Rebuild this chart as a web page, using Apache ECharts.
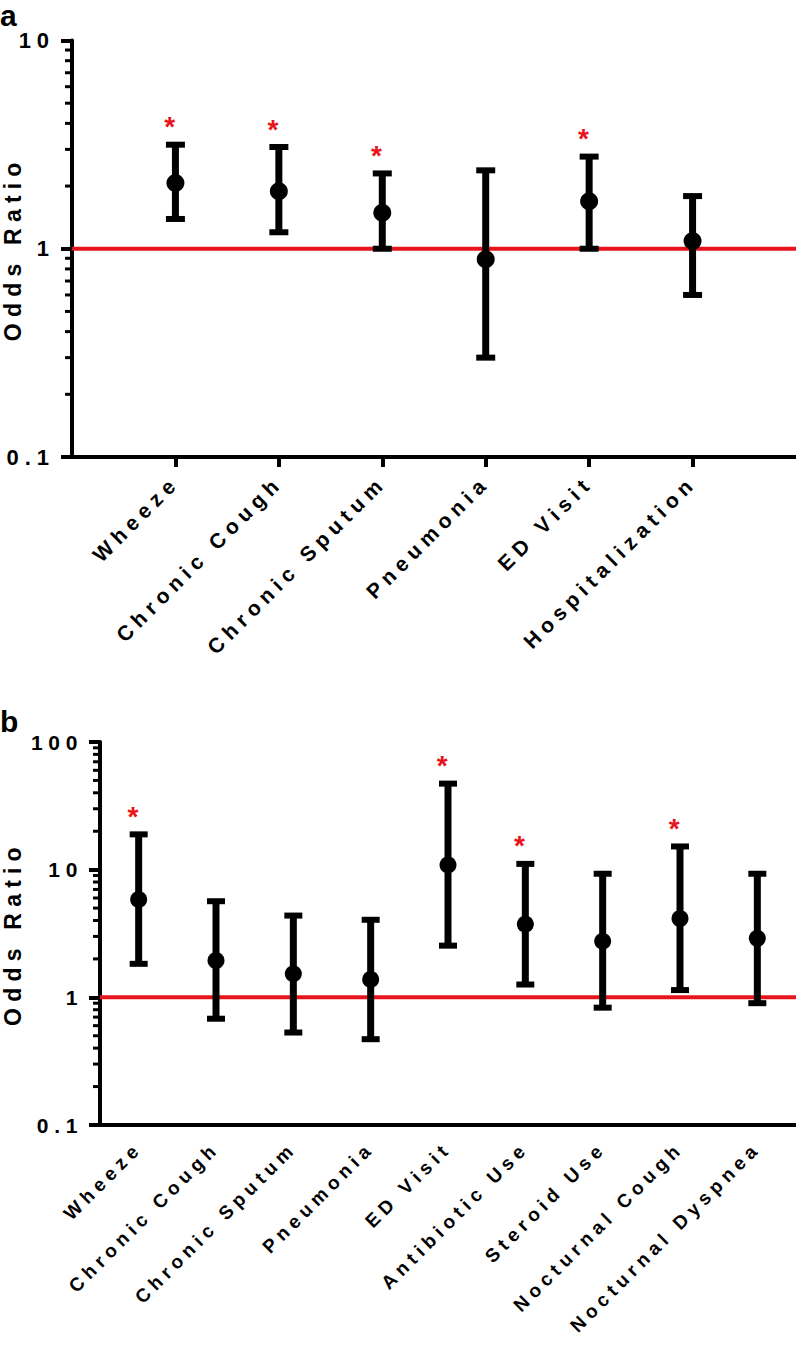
<!DOCTYPE html>
<html><head><meta charset="utf-8">
<script src="https://cdn.jsdelivr.net/npm/echarts@6/dist/echarts.min.js"></script>
<style>
html,body{margin:0;padding:0;background:#fff;}
#c{width:796px;height:1345px;}
#c svg text{letter-spacing:0.27em;}
</style></head><body><div id="c"></div>
<script>
// ---- Panel a data ----
const catsA = ['Wheeze','Chronic Cough','Chronic Sputum','Pneumonia','ED Visit','Hospitalization'];
const orA   = [2.07, 1.89, 1.49, 0.89, 1.69, 1.09];
const lowA  = [1.39, 1.20, 1.00, 0.30, 1.00, 0.60];
const highA = [3.16, 3.08, 2.30, 2.38, 2.77, 1.79];
const sigA  = [1, 1, 1, 0, 1, 0];

// ---- Panel b data ----
const catsB = ['Wheeze','Chronic Cough','Chronic Sputum','Pneumonia','ED Visit','Antibiotic Use','Steroid Use','Nocturnal Cough','Nocturnal Dyspnea'];
const orB   = [5.84, 1.94, 1.53, 1.38, 10.9, 3.74, 2.75, 4.14, 2.90];
const lowB  = [1.83, 0.68, 0.53, 0.47, 2.54, 1.26, 0.83, 1.14, 0.90];
const highB = [18.9, 5.66, 4.37, 4.05, 47.2, 11.1, 9.29, 15.2, 9.29];
const sigB  = [1, 0, 0, 0, 1, 1, 0, 1, 0];

// ---- axis decorations ----
const yRangeA = [0.1, 10];
const yRangeB = [0.1, 100];
const minorTicksA = [0.2,0.3,0.4,0.5,0.6,0.7,0.8,0.9,2,3,4,5,6,7,8,9];
const minorTicksB = [0.2,0.3,0.4,0.5,0.6,0.7,0.8,0.9,2,3,4,5,6,7,8,9,20,30,40,50,60,70,80,90];
const refValue = 1;
const yTitle = 'Odds Ratio';

const FONT = 'Liberation Sans, Arial, sans-serif';
const RED = '#e8141b';

function errRender(capW, lw, capLw, starGap) {
  return function (params, api) {
    const xi = api.value(0);
    const lo = api.coord([xi, api.value(1)]);
    const hi = api.coord([xi, api.value(2)]);
    const ch = [
      {type:'line', shape:{x1:lo[0], y1:lo[1], x2:hi[0], y2:hi[1]}, style:{stroke:'#000', lineWidth:lw}},
      {type:'line', shape:{x1:hi[0]-capW/2, y1:hi[1], x2:hi[0]+capW/2, y2:hi[1]}, style:{stroke:'#000', lineWidth:capLw}},
      {type:'line', shape:{x1:lo[0]-capW/2, y1:lo[1], x2:lo[0]+capW/2, y2:lo[1]}, style:{stroke:'#000', lineWidth:capLw}}
    ];
    if (api.value(3)) {
      ch.push({type:'text', x:hi[0]-2, y:hi[1]-starGap,
        style:{text:'*', fill:RED, font:'bold 28px ' + FONT, textAlign:'center', textVerticalAlign:'middle'}});
    }
    return {type:'group', children:ch};
  };
}
function minorRender(params, api) {
  const y = api.coord([api.value(0), api.value(1)])[1];
  const x0 = params.coordSys.x;
  return {type:'line', shape:{x1:x0-7, y1:y, x2:x0, y2:y}, style:{stroke:'#000', lineWidth:3}};
}
function refRender(params, api) {
  const y = api.coord([api.value(0), api.value(1)])[1];
  const cs = params.coordSys;
  return {type:'line', shape:{x1:cs.x, y1:y, x2:cs.x+cs.width, y2:y}, style:{stroke:RED, lineWidth:4}};
}
function fmtLog(v){ return String(+(+v).toPrecision(3)); }

function yAxis(gi, range, nameGap, fs) {
  return {
    type:'log', logBase:10, min:range[0], max:range[1], gridIndex:gi,
    axisLine:{show:true, lineStyle:{color:'#000', width:4}},
    axisTick:{show:true, length:11, lineStyle:{color:'#000', width:4}},
    axisLabel:{color:'#000', fontSize:fs, fontWeight:'bold', fontFamily:FONT, margin:17, formatter:fmtLog},
    splitLine:{show:false}, minorTick:{show:false},
    name:yTitle, nameLocation:'middle', nameGap:nameGap, nameMoveOverlap:false,
    nameTextStyle:{color:'#000', fontSize:23, fontWeight:'bold', fontFamily:FONT}
  };
}

const option = {
  animation:false,
  backgroundColor:'#fff',
  grid:[
    {left:72, top:40.5, right:0, height:416.5, outerBoundsMode:'none', containLabel:false},
    {left:100, top:742, right:0, height:383, outerBoundsMode:'none', containLabel:false}
  ],
  xAxis:[
    {type:'category', gridIndex:0, data:['', ...catsA, ' '], boundaryGap:false,
     axisLine:{onZero:false, lineStyle:{color:'#000', width:4}},
     axisTick:{length:10, lineStyle:{color:'#000', width:4}, interval:function(i){ return i>0 && i<=catsA.length; }},
     axisLabel:{interval:0, rotate:45, margin:22, color:'#000', fontSize:21, fontWeight:'bold', fontFamily:FONT},
     splitLine:{show:false}},
    {type:'category', gridIndex:1, data:catsB, boundaryGap:true,
     axisLine:{onZero:false, lineStyle:{color:'#000', width:4}},
     axisTick:{alignWithLabel:true, interval:0, length:10, lineStyle:{color:'#000', width:4}},
     axisLabel:{interval:0, rotate:45, margin:20, color:'#000', fontSize:19, fontWeight:'bold', fontFamily:FONT},
     splitLine:{show:false}}
  ],
  yAxis:[ yAxis(0, yRangeA, 48, 22), yAxis(1, yRangeB, 76, 21) ],
  graphic:[
    {type:'text', left:0, top:0, style:{text:'a', font:'bold 30px ' + FONT, fill:'#000'}},
    {type:'text', left:0, top:706, style:{text:'b', font:'bold 30px ' + FONT, fill:'#000'}}
  ],
  series:[
    {type:'custom', xAxisIndex:0, yAxisIndex:0, z:1, renderItem:refRender, data:[[catsA[0], refValue]], silent:true},
    {type:'custom', xAxisIndex:0, yAxisIndex:0, z:2, renderItem:minorRender, data:minorTicksA.map(v=>[catsA[0], v]), silent:true},
    {type:'custom', xAxisIndex:0, yAxisIndex:0, z:3, renderItem:errRender(19, 7, 6, 18),
     data:catsA.map((c,i)=>[c, lowA[i], highA[i], sigA[i]])},
    {type:'scatter', xAxisIndex:0, yAxisIndex:0, z:4, symbol:'circle', symbolSize:18, itemStyle:{color:'#000', opacity:1},
     data:catsA.map((c,i)=>[c, orA[i]])},

    {type:'custom', xAxisIndex:1, yAxisIndex:1, z:1, renderItem:refRender, data:[[catsB[0], refValue]], silent:true},
    {type:'custom', xAxisIndex:1, yAxisIndex:1, z:2, renderItem:minorRender, data:minorTicksB.map(v=>[catsB[0], v]), silent:true},
    {type:'custom', xAxisIndex:1, yAxisIndex:1, z:3, renderItem:errRender(18, 7, 6, 18),
     data:catsB.map((c,i)=>[c, lowB[i], highB[i], sigB[i]])},
    {type:'scatter', xAxisIndex:1, yAxisIndex:1, z:4, symbol:'circle', symbolSize:17, itemStyle:{color:'#000', opacity:1},
     data:catsB.map((c,i)=>[c, orB[i]])}
  ]
};
const chart = echarts.init(document.getElementById('c'), null, {renderer:'svg', width:796, height:1345});
chart.setOption(option);
</script></body></html>
